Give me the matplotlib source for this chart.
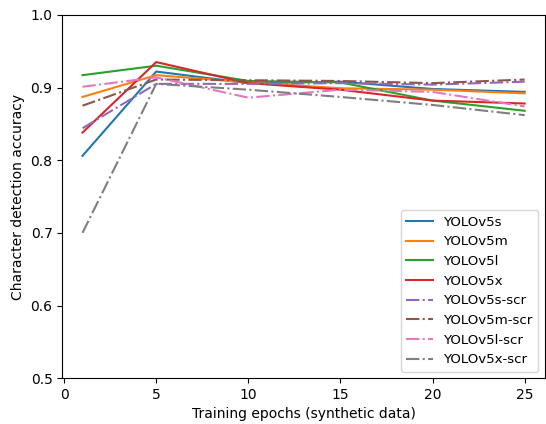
import numpy as np
import matplotlib
matplotlib.use("Agg")
import matplotlib.pyplot as plt

epochs = [1, 5, 10, 15, 20, 25]

yolov5s = [0.806, 0.922, 0.906, 0.908, 0.898, 0.894]
yolov5m = [0.887, 0.917, 0.907, 0.899, 0.897, 0.892]
yolov5l = [0.917, 0.930, 0.909, 0.907, 0.882, 0.868]
yolov5x = [0.838, 0.935, 0.906, 0.897, 0.882, 0.878]
yolov5s_scr = [0.844, 0.905, 0.905, 0.906, 0.904, 0.908]
yolov5m_scr = [0.875, 0.911, 0.910, 0.909, 0.906, 0.911]
yolov5l_scr = [0.901, 0.914, 0.886, 0.897, 0.894, 0.874]
yolov5x_scr = [0.700, 0.905, 0.897, 0.887, 0.876, 0.862]

series = [
    ("YOLOv5s", yolov5s, "-"),
    ("YOLOv5m", yolov5m, "-"),
    ("YOLOv5l", yolov5l, "-"),
    ("YOLOv5x", yolov5x, "-"),
    ("YOLOv5s-scr", yolov5s_scr, "-."),
    ("YOLOv5m-scr", yolov5m_scr, "-."),
    ("YOLOv5l-scr", yolov5l_scr, "-."),
    ("YOLOv5x-scr", yolov5x_scr, "-."),
]

fig = plt.figure(figsize=(5.46, 4.24), dpi=100)
ax = fig.add_axes([0.114, 0.108, 0.884, 0.857])
for name, vals, ls in series:
    ax.plot(epochs, vals, ls, label=name)

ax.set_ylim(0.5, 1.0)
ax.set_xlim(-0.1, 26.1)
ax.set_xlabel("Training epochs (synthetic data)")
ax.set_ylabel("Character detection accuracy")
ax.legend(loc="lower right", fontsize=9.6)
fig.savefig("out.png", dpi=100)
